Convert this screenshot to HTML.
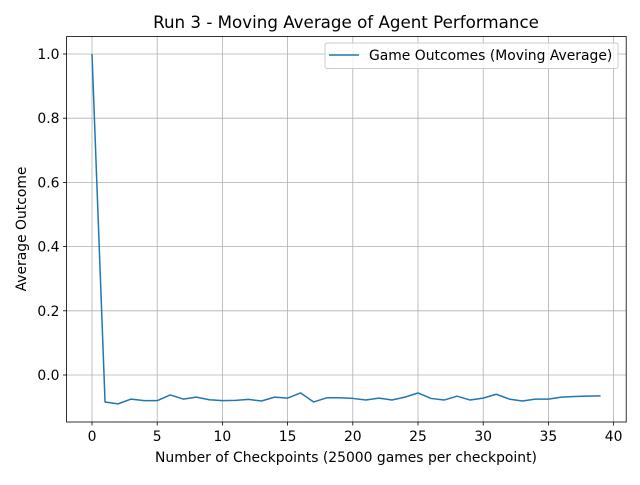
<!DOCTYPE html>
<html><head><meta charset="utf-8"><style>
body{margin:0;background:#fff;font-family:"Liberation Sans","DejaVu Sans",sans-serif;}
text{font-family:"DejaVu Sans","Liberation Sans",sans-serif;}
</style></head><body>
<svg id="chart" width="640" height="480" xmlns="http://www.w3.org/2000/svg">
<rect width="640" height="480" fill="#fff"/>
<text x="346" y="28" text-anchor="middle" font-size="16.7">Run 3 - Moving Average of Agent Performance</text>
<g id="grid"></g>
<g id="ticks"></g>
<path id="line" fill="none" stroke="#1f77b4" stroke-width="1.5" stroke-linejoin="round"/>
<rect x="66.6" y="36.5" width="559.6" height="385.5" fill="none" stroke="#000" stroke-width="0.8"/>
<text x="346" y="462" text-anchor="middle" font-size="13.9">Number of Checkpoints (25000 games per checkpoint)</text>
<text transform="translate(26,229) rotate(-90)" text-anchor="middle" font-size="13.9">Average Outcome</text>
<g>
<rect x="325" y="43" width="293" height="25.5" rx="2" fill="#fff" fill-opacity="0.8" stroke="#ccc"/>
<line x1="329" y1="55" x2="359" y2="55" stroke="#1f77b4" stroke-width="1.5"/>
<text x="369" y="60" font-size="13.9">Game Outcomes (Moving Average)</text>
</g>
</svg>
<script>
const xTicks=[0,5,10,15,20,25,30,35,40];
const yTicks=[0.0,0.2,0.4,0.6,0.8,1.0];
const yLabels=["0.0","0.2","0.4","0.6","0.8","1.0"];
const values=[1.0,-0.084,-0.09,-0.075,-0.08,-0.08,-0.062,-0.075,-0.069,-0.077,-0.08,-0.079,-0.076,-0.081,-0.069,-0.072,-0.056,-0.084,-0.071,-0.071,-0.073,-0.078,-0.072,-0.078,-0.069,-0.056,-0.073,-0.078,-0.066,-0.078,-0.072,-0.06,-0.075,-0.081,-0.075,-0.075,-0.069,-0.067,-0.066,-0.065];
const sx=v=>92+v*13.04, sy=v=>375-v*321;
const NS="http://www.w3.org/2000/svg";
const grid=document.getElementById('grid'), ticks=document.getElementById('ticks');
function mk(tag,attrs,parent){const e=document.createElementNS(NS,tag);for(const k in attrs)e.setAttribute(k,attrs[k]);parent.appendChild(e);return e;}
xTicks.forEach(t=>{const x=sx(t);
 const g=mk('line',{x1:x,x2:x,y1:36.5,y2:422,stroke:'#b0b0b0','stroke-width':0.8},grid);
 
 
 mk('line',{x1:x,x2:x,y1:422,y2:425.5,stroke:'#000','stroke-width':0.8},ticks);
 const l=mk('text',{x:x,y:441,'text-anchor':'middle','font-size':13.9},ticks);l.textContent=t;
 
 
});
yTicks.forEach((t,i)=>{const y=sy(t);
 const g=mk('line',{x1:66.6,x2:626.2,y1:y,y2:y,stroke:'#b0b0b0','stroke-width':0.8},grid);
 
 
 mk('line',{x1:63,x2:66.6,y1:y,y2:y,stroke:'#000','stroke-width':0.8},ticks);
 const l=mk('text',{x:59.5,y:y+5,'text-anchor':'end','font-size':13.9},ticks);l.textContent=yLabels[i];
 
 
});
document.getElementById('line').setAttribute('d',values.map((v,i)=>(i?'L':'M')+sx(i)+','+sy(v)).join(''));
</script>
</body></html>
